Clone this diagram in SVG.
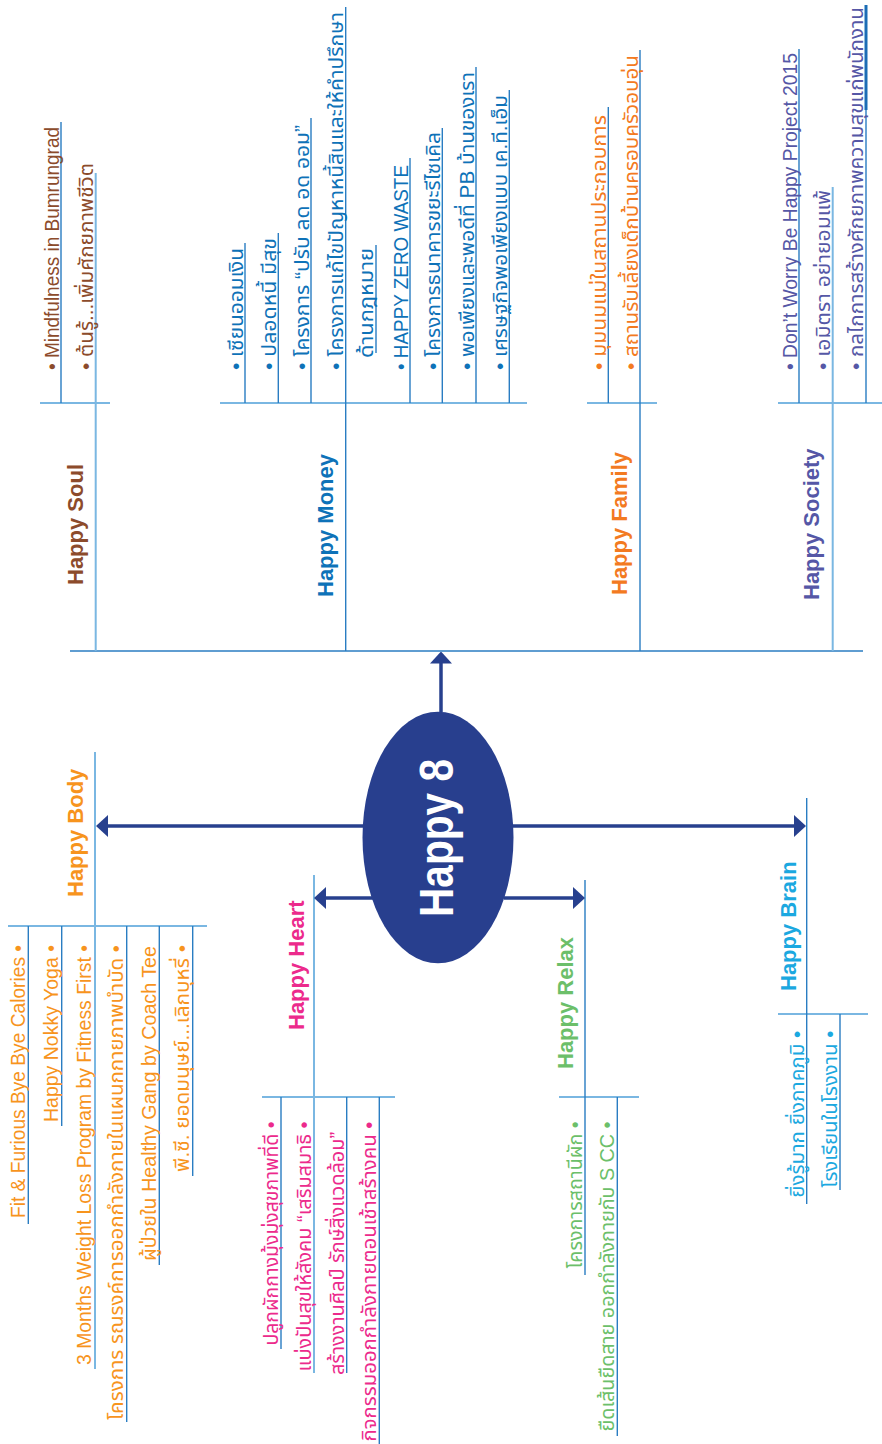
<svg xmlns="http://www.w3.org/2000/svg" width="882" height="1444" viewBox="0 0 882 1444">
<style>
.lbl{font-family:"Liberation Sans",Arial,sans-serif;font-weight:bold;font-size:22px}
.it{font-family:"Liberation Sans","Noto Sans Thai","Noto Sans","DejaVu Sans",sans-serif;font-size:20px}
.soul{fill:#8C4B2B}.money{fill:#0E72B8}.family{fill:#F37A21}.society{fill:#5557A6}
.body{fill:#F7941D}.heart{fill:#EC2A8C}.relax{fill:#6CBF6A}.brain{fill:#1BA8E0}
.dk{stroke:#2A7DC2;stroke-width:1.4;fill:none}
.lt{stroke:#7AB7E2;stroke-width:2;fill:none}
.arr{stroke:#27408E;stroke-width:3.5;fill:none;marker-end:url(#ah)}
.e{text-anchor:end}
</style>
<defs>
<marker id="ah" markerUnits="userSpaceOnUse" markerWidth="12" markerHeight="22" viewBox="0 0 12 22" refX="2" refY="11" orient="auto"><path d="M0,0 L12,11 L0,22 z" fill="#27408E"/></marker>
</defs>
<rect width="882" height="1444" fill="#fff"/>
<g id="connectors">
<path class="dk" d="M70,651 H863"/>
<path class="lt" d="M40,403 H110 M220,403 H527 M587,403 H657 M778,403 H882"/>
<path class="dk" d="M61,122 V403 M245,243 V403 M278.3,233 V403 M311,118 V403 M345.7,7 V651 M376,245 V353 M410,158 V403 M442.3,128 V403 M476,67 V403 M509.3,90 V403 M608.3,107 V403 M640,50 V651 M799,49 V403 M866,5 V403"/>
<path class="lt" d="M95.7,173 V651 M832.7,187 V651"/>
<path d="M866,5 V110" stroke="#1B6DB5" stroke-width="3"/>
<path class="lt" d="M95,752 V1369 M8,926 H207 M314,875 V1373 M262,1097 H395 M559,1097 H639 M778,1014 H868"/>
<path class="dk" d="M28.3,926 V1224 M61.7,926 V1126 M126.7,926 V1422 M159.3,926 V1265 M192.7,926 V1176 M281,1097 V1349 M346.7,1097 V1373 M379.3,1097 V1444 M585,880 V1275 M617.3,1097 V1436 M806.7,798 V1204 M840,1014 V1190"/>
<path class="arr" d="M441,712 V661.5"/>
<path class="arr" d="M363,826 H106"/>
<path class="arr" d="M513,826 H796"/>
<path class="arr" d="M373,898 H324"/>
<path class="arr" d="M504,898 H575"/>
</g>
<g id="happy8">
<ellipse cx="438" cy="837.5" rx="75.5" ry="125.8" fill="#283F8E"/>
<text transform="translate(453,917) rotate(-90)" font-family="Liberation Sans,Arial,sans-serif" font-weight="bold" font-size="48" fill="#fff" textLength="158" lengthAdjust="spacingAndGlyphs">Happy 8</text>
</g>
<g id="happy-soul"><text class="lbl soul" transform="translate(83,585) rotate(-90)">Happy Soul</text></g>
<g id="happy-money"><text class="lbl money" transform="translate(333,597) rotate(-90)">Happy Money</text></g>
<g id="happy-family"><text class="lbl family" transform="translate(627,595) rotate(-90)">Happy Family</text></g>
<g id="happy-society"><text class="lbl society" transform="translate(819,600) rotate(-90)">Happy Society</text></g>
<g id="happy-body"><text class="lbl body" transform="translate(83,897) rotate(-90)">Happy Body</text></g>
<g id="happy-heart"><text class="lbl heart" transform="translate(304,1030) rotate(-90)">Happy Heart</text></g>
<g id="happy-relax"><text class="lbl relax" transform="translate(573,1069) rotate(-90)">Happy Relax</text></g>
<g id="happy-brain"><text class="lbl brain" transform="translate(796,991) rotate(-90)">Happy Brain</text></g>
<g id="soul-1"><text class="it soul" transform="translate(58.5,370) rotate(-90)" textLength="243" lengthAdjust="spacingAndGlyphs">• Mindfulness in Bumrungrad</text></g>
<g id="soul-2"><text class="it soul" transform="translate(92.5,370) rotate(-90)" textLength="207" lengthAdjust="spacingAndGlyphs">• ต้นรู้...เพิ่มศักยภาพชีวิต</text></g>
<g id="money-1"><text class="it money" transform="translate(242.5,370) rotate(-90)" textLength="122" lengthAdjust="spacingAndGlyphs">• เซียนออมเงิน</text></g>
<g id="money-2"><text class="it money" transform="translate(275.5,370) rotate(-90)" textLength="132" lengthAdjust="spacingAndGlyphs">• ปลอดหนี้ มีสุข</text></g>
<g id="money-3"><text class="it money" transform="translate(308.5,370) rotate(-90)" textLength="245" lengthAdjust="spacingAndGlyphs">• โครงการ “ปรับ ลด อด ออม”</text></g>
<g id="money-4"><text class="it money" transform="translate(342.5,370) rotate(-90)" textLength="358" lengthAdjust="spacingAndGlyphs">• โครงการแก้ไขปัญหาหนี้สินและให้คำปรึกษา</text>
<text class="it money" transform="translate(372.5,358) rotate(-90)" textLength="110" lengthAdjust="spacingAndGlyphs">ด้านกฎหมาย</text></g>
<g id="money-5"><text class="it money" transform="translate(407.5,370) rotate(-90)" textLength="205" lengthAdjust="spacingAndGlyphs">• HAPPY ZERO WASTE</text></g>
<g id="money-6"><text class="it money" transform="translate(439.5,370) rotate(-90)" textLength="238" lengthAdjust="spacingAndGlyphs">• โครงการธนาคารขยะรีไซเคิล</text></g>
<g id="money-7"><text class="it money" transform="translate(473.5,370) rotate(-90)" textLength="298" lengthAdjust="spacingAndGlyphs">• พอเพียงและพอดีที่ PB บ้านของเรา</text></g>
<g id="money-8"><text class="it money" transform="translate(506.5,370) rotate(-90)" textLength="275" lengthAdjust="spacingAndGlyphs">• เศรษฐกิจพอเพียงแบบ เค.ที.เอ็ม</text></g>
<g id="family-1"><text class="it family" transform="translate(605.5,370) rotate(-90)" textLength="255" lengthAdjust="spacingAndGlyphs">• มุมนมแม่ในสถานประกอบการ</text></g>
<g id="family-2"><text class="it family" transform="translate(637.5,370) rotate(-90)" textLength="315" lengthAdjust="spacingAndGlyphs">• สถานรับเลี้ยงเด็กบ้านครอบครัวอบอุ่น</text></g>
<g id="society-1"><text class="it society" transform="translate(796.5,370) rotate(-90)" textLength="317" lengthAdjust="spacingAndGlyphs">• Don’t Worry Be Happy Project 2015</text></g>
<g id="society-2"><text class="it society" transform="translate(829.5,370) rotate(-90)" textLength="180" lengthAdjust="spacingAndGlyphs">• เอมิตรา อย่ายอมแพ้</text></g>
<g id="society-3"><text class="it society" transform="translate(863,370) rotate(-90)" textLength="363" lengthAdjust="spacingAndGlyphs">• กลไกการสร้างศักยภาพความสุขแก่พนักงาน</text></g>
<g id="body-1"><text class="it body e" transform="translate(24.5,945) rotate(-90)" textLength="273" lengthAdjust="spacingAndGlyphs">Fit &amp; Furious Bye Bye Calories •</text></g>
<g id="body-2"><text class="it body e" transform="translate(58,945) rotate(-90)" textLength="177" lengthAdjust="spacingAndGlyphs">Happy Nokky Yoga •</text></g>
<g id="body-3"><text class="it body e" transform="translate(90.5,945) rotate(-90)" textLength="420" lengthAdjust="spacingAndGlyphs">3 Months Weight Loss Program by Fitness First •</text></g>
<g id="body-4"><text class="it body e" transform="translate(123,945) rotate(-90)" textLength="475" lengthAdjust="spacingAndGlyphs">โครงการ รณรงค์การออกกำลังกายในแผนกกายภาพบำบัด •</text>
<text class="it body e" transform="translate(155.5,946) rotate(-90)" textLength="315" lengthAdjust="spacingAndGlyphs">ผู้ป่วยใน Healthy Gang by Coach Tee</text></g>
<g id="body-5"><text class="it body e" transform="translate(189,945) rotate(-90)" textLength="227" lengthAdjust="spacingAndGlyphs">พี.ซี. ยอดมนุษย์...เลิกบุหรี่ •</text></g>
<g id="heart-1"><text class="it heart e" transform="translate(277.5,1121.5) rotate(-90)" textLength="224" lengthAdjust="spacingAndGlyphs">ปลูกผักกางมุ้งมุ่งสุขภาพที่ดี •</text></g>
<g id="heart-2"><text class="it heart e" transform="translate(310.5,1121.5) rotate(-90)" textLength="250" lengthAdjust="spacingAndGlyphs">แบ่งปันสุขให้สังคม “เสริมสมาธิ •</text>
<text class="it heart e" transform="translate(343.5,1132) rotate(-90)" textLength="243" lengthAdjust="spacingAndGlyphs">สร้างงานศิลป์ รักษ์สิ่งแวดล้อม”</text></g>
<g id="heart-3"><text class="it heart e" transform="translate(375.5,1121.5) rotate(-90)" textLength="320" lengthAdjust="spacingAndGlyphs">กิจกรรมออกกำลังกายตอนเช้าสร้างคน •</text></g>
<g id="relax-1"><text class="it relax e" transform="translate(581.5,1121.5) rotate(-90)" textLength="147" lengthAdjust="spacingAndGlyphs">โครงการสถานีผัก •</text></g>
<g id="relax-2"><text class="it relax e" transform="translate(613.5,1121.5) rotate(-90)" textLength="310" lengthAdjust="spacingAndGlyphs">ยืดเส้นยืดสาย ออกกำลังกายกับ S CC •</text></g>
<g id="brain-1"><text class="it brain e" transform="translate(803.5,1030.7) rotate(-90)" textLength="167" lengthAdjust="spacingAndGlyphs">ยิ่งรู้มาก ยิ่งภาคภูมิ •</text></g>
<g id="brain-2"><text class="it brain e" transform="translate(836.5,1030.7) rotate(-90)" textLength="157" lengthAdjust="spacingAndGlyphs">โรงเรียนในโรงงาน •</text></g>
</svg>
